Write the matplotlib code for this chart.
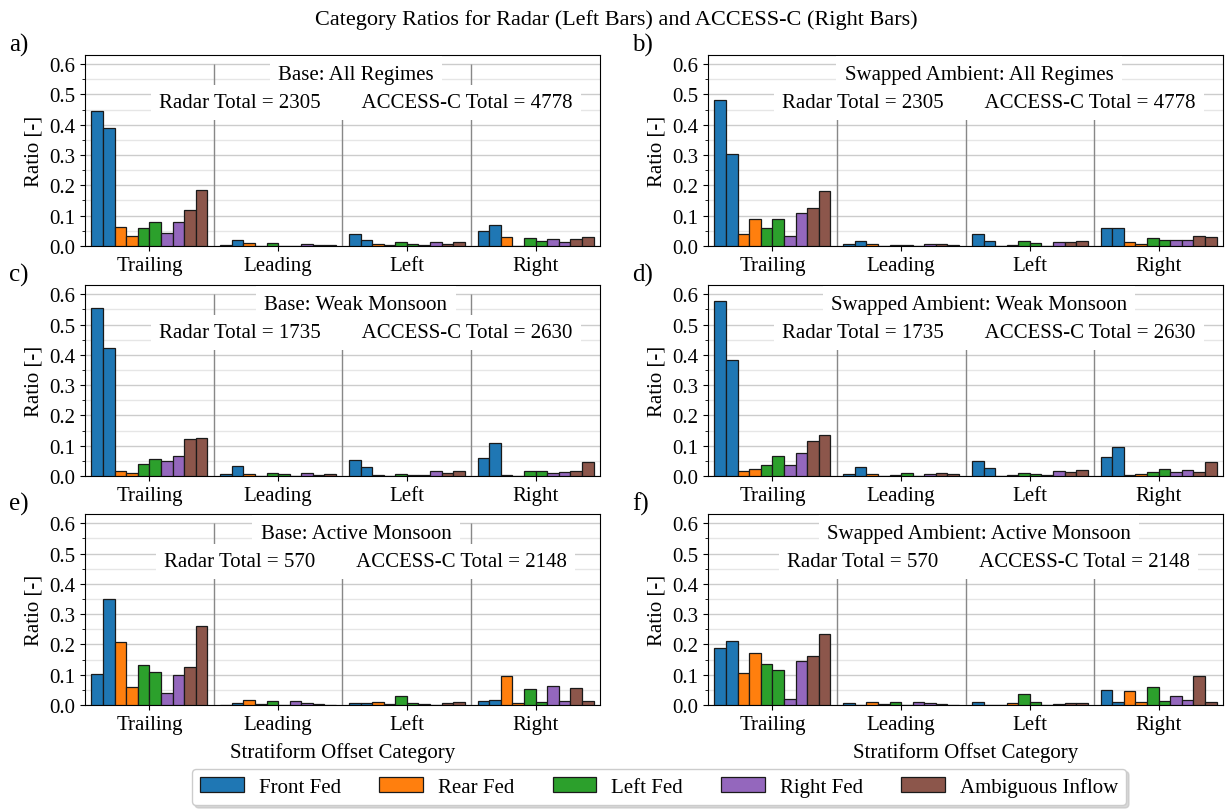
import matplotlib
matplotlib.use("Agg")
import matplotlib.pyplot as plt
import numpy as np
from matplotlib.ticker import MultipleLocator

plt.rcParams["font.family"] = ["Liberation Serif", "DejaVu Serif"]

offsets = ["Trailing", "Leading", "Left", "Right"]
inflows = ["Front Fed", "Rear Fed", "Left Fed", "Right Fed", "Ambiguous Inflow"]
colors = ["#1f77b4", "#ff7f0e", "#2ca02c", "#9467bd", "#8c564b"]

# ratios per offset category (rows) and inflow category (columns)
base_all_radar = [[0.444, 0.063, 0.060, 0.042, 0.119],
                  [0.003, 0.008, 0.008, 0.001, 0.002],
                  [0.040, 0.006, 0.013, 0.004, 0.007],
                  [0.049, 0.028, 0.025, 0.023, 0.023]]
base_all_access = [[0.390, 0.031, 0.078, 0.078, 0.184],
                   [0.018, 0.001, 0.001, 0.006, 0.002],
                   [0.020, 0.002, 0.005, 0.012, 0.013],
                   [0.068, 0.001, 0.017, 0.013, 0.029]]

swap_all_radar = [[0.481, 0.039, 0.059, 0.032, 0.125],
                  [0.006, 0.006, 0.004, 0.001, 0.006],
                  [0.040, 0.001, 0.017, 0.001, 0.012],
                  [0.060, 0.013, 0.025, 0.018, 0.032]]
swap_all_access = [[0.303, 0.088, 0.088, 0.107, 0.180],
                   [0.015, 0.001, 0.004, 0.006, 0.004],
                   [0.015, 0.002, 0.008, 0.012, 0.017],
                   [0.058, 0.007, 0.018, 0.018, 0.029]]

base_weak_radar = [[0.556, 0.015, 0.040, 0.049, 0.123],
                   [0.008, 0.008, 0.010, 0.001, 0.003],
                   [0.052, 0.003, 0.007, 0.003, 0.010],
                   [0.058, 0.003, 0.017, 0.010, 0.015]]
base_weak_access = [[0.424, 0.010, 0.056, 0.066, 0.124],
                    [0.033, 0.001, 0.007, 0.010, 0.006],
                    [0.030, 0.001, 0.003, 0.017, 0.015],
                    [0.110, 0.001, 0.017, 0.012, 0.045]]

swap_weak_radar = [[0.577, 0.015, 0.036, 0.036, 0.116],
                   [0.008, 0.005, 0.003, 0.001, 0.010],
                   [0.050, 0.001, 0.010, 0.003, 0.012],
                   [0.063, 0.003, 0.013, 0.013, 0.013]]
swap_weak_access = [[0.383, 0.022, 0.066, 0.076, 0.136],
                    [0.029, 0.001, 0.010, 0.008, 0.008],
                    [0.025, 0.003, 0.005, 0.018, 0.020],
                    [0.097, 0.007, 0.022, 0.020, 0.045]]

base_active_radar = [[0.103, 0.209, 0.132, 0.039, 0.126],
                     [0.001, 0.015, 0.012, 0.013, 0.003],
                     [0.006, 0.010, 0.029, 0.002, 0.006],
                     [0.013, 0.097, 0.052, 0.064, 0.055]]
base_active_access = [[0.351, 0.060, 0.109, 0.099, 0.262],
                      [0.007, 0.003, 0.001, 0.007, 0.001],
                      [0.008, 0.002, 0.006, 0.001, 0.011],
                      [0.015, 0.007, 0.011, 0.012, 0.012]]

swap_active_radar = [[0.187, 0.105, 0.136, 0.020, 0.163],
                     [0.007, 0.011, 0.011, 0.009, 0.002],
                     [0.009, 0.001, 0.036, 0.001, 0.007],
                     [0.050, 0.045, 0.059, 0.029, 0.095]]
swap_active_access = [[0.211, 0.172, 0.117, 0.146, 0.233],
                      [0.001, 0.003, 0.001, 0.006, 0.001],
                      [0.001, 0.006, 0.009, 0.002, 0.007],
                      [0.009, 0.011, 0.012, 0.015, 0.011]]

titles = ["Base: All Regimes", "Swapped Ambient: All Regimes",
          "Base: Weak Monsoon", "Swapped Ambient: Weak Monsoon",
          "Base: Active Monsoon", "Swapped Ambient: Active Monsoon"]
radar_totals = [2305, 2305, 1735, 1735, 570, 570]
access_totals = [4778, 4778, 2630, 2630, 2148, 2148]
letters = ["a)", "b)", "c)", "d)", "e)", "f)"]

panels = [(base_all_radar, base_all_access), (swap_all_radar, swap_all_access),
          (base_weak_radar, base_weak_access), (swap_weak_radar, swap_weak_access),
          (base_active_radar, base_active_access), (swap_active_radar, swap_active_access)]

FS = 15
W = 0.09

fig = plt.figure(figsize=(12.32, 8.12), dpi=100)
lefts = [0.069, 0.5747]
bottoms = [0.696, 0.4126, 0.1305]
box = dict(boxstyle="square,pad=0.4", facecolor="white", edgecolor="none")

handles = []
for i, (radar, access) in enumerate(panels):
    ax = fig.add_axes([lefts[i % 2], bottoms[i // 2], 0.418, 0.235])
    radar = np.array(radar)
    access = np.array(access)
    for c in range(len(inflows)):
        for s, vals in enumerate((radar, access)):
            x = np.arange(len(offsets)) - 0.45 + (2 * c + s + 0.5) * W
            b = ax.bar(x, vals[:, c], width=W, color=colors[c],
                       edgecolor="#1a1a1a", linewidth=0.9, zorder=3)
            if i == 0 and s == 0:
                handles.append(b)
    ax.vlines([0.5, 1.5, 2.5], 0, 0.6, color="#888888", linewidth=1.0, zorder=2)
    ax.set_xlim(-0.5, 3.5)
    ax.set_ylim(0, 0.63)
    ax.yaxis.set_major_locator(MultipleLocator(0.1))
    ax.yaxis.set_minor_locator(MultipleLocator(0.05))
    ax.grid(True, axis="y", which="major", color="#cccccc", linewidth=1.0, zorder=0)
    ax.grid(True, axis="y", which="minor", color="#e6e6e6", linewidth=1.0, zorder=0)
    ax.set_axisbelow(True)
    ax.set_xticks(range(len(offsets)))
    ax.set_xticklabels(offsets, fontsize=FS)
    ax.tick_params(axis="y", labelsize=FS)
    ax.set_ylabel("Ratio [-]", fontsize=FS)
    if i >= 4:
        ax.set_xlabel("Stratiform Offset Category", fontsize=FS, labelpad=6)
    ax.text(0.526, 0.90, titles[i], transform=ax.transAxes, ha="center",
            va="center", fontsize=FS, bbox=box, zorder=4)
    totals = (f"Radar Total = {radar_totals[i]}" + " " * 8
              + f"ACCESS-C Total = {access_totals[i]}")
    ax.text(0.545, 0.752, totals, transform=ax.transAxes, ha="center",
            va="center", fontsize=FS, bbox=box, zorder=4)
    ax.text(-0.148, 1.055, letters[i], transform=ax.transAxes, ha="left",
            va="center", fontsize=18)

fig.suptitle("Category Ratios for Radar (Left Bars) and ACCESS-C (Right Bars)",
             fontsize=16, y=0.988)
fig.legend(handles, inflows, loc="lower center", ncol=5, fontsize=FS,
           bbox_to_anchor=(0.535, 0.002), borderaxespad=0.2,
           handlelength=2.1, handletextpad=0.7, columnspacing=1.85,
           fancybox=True, shadow={"color": "0.75", "alpha": 0.6})

fig.savefig("out.png", dpi=100)
